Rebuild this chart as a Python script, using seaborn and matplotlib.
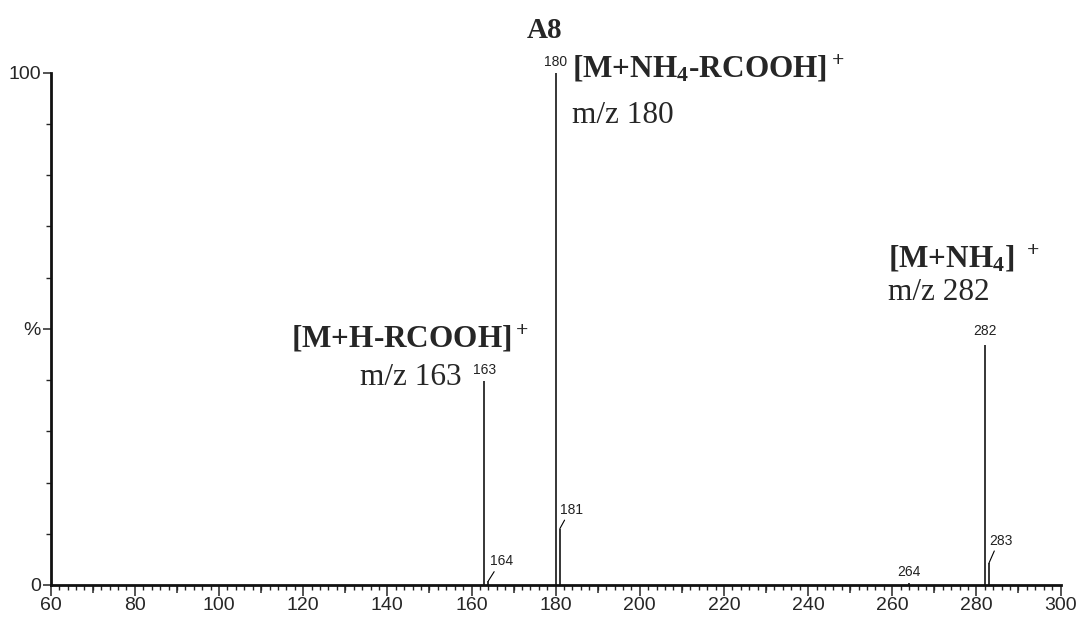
import matplotlib
matplotlib.use('Agg')
import matplotlib.pyplot as plt
from matplotlib.ticker import MultipleLocator, FixedLocator
import seaborn as sns

# peak list
mz = [163, 164, 180, 181, 264, 282, 283]
intensity = [39.8, 0.8, 100, 11.0, 0.4, 46.8, 4.3]
# label offsets (points); leader=True draws a small slanted line to the label
label_off = [(0, 3), (1, 9), (0, 3), (0, 8.5), (0, 3), (0, 5), (0, 11)]
leader = [False, True, False, True, False, False, True]

sns.set_theme(style='ticks')
plt.rcParams['font.family'] = ['Liberation Sans', 'DejaVu Sans']
plt.rcParams['mathtext.fontset'] = 'custom'
plt.rcParams['mathtext.rm'] = 'Liberation Serif:bold'
plt.rcParams['mathtext.it'] = 'Liberation Serif:bold'
plt.rcParams['mathtext.bf'] = 'Liberation Serif:bold'

fig = plt.figure(figsize=(10.8, 6.22), dpi=100)
ax = fig.add_axes([0.047, 0.0595, 0.935, 0.8235])

ax.vlines(mz, 0, intensity, color='black', lw=1.1)

for m, h, off, ld in zip(mz, intensity, label_off, leader):
    if ld:
        ax.annotate(str(m), xy=(m, h), xytext=off, textcoords='offset points',
                    ha='left', va='bottom', fontsize=10, color='#222222',
                    arrowprops=dict(arrowstyle='-', lw=0.8, color='black',
                                    shrinkA=0, shrinkB=0, relpos=(0.3, 0.05)))
    else:
        ax.annotate(str(m), xy=(m, h), xytext=off, textcoords='offset points',
                    ha='center', va='bottom', fontsize=10, color='#222222')

ax.set_xlim(60, 300)
ax.set_ylim(0, 100)
sns.despine(ax=ax)
for s in ['left', 'bottom']:
    ax.spines[s].set_linewidth(2.0)
    ax.spines[s].set_color('#111111')

ax.xaxis.set_major_locator(MultipleLocator(20))
ax.xaxis.set_minor_locator(MultipleLocator(2))
ax.tick_params(axis='x', which='major', length=8, width=1.1, labelsize=14, pad=1)
ax.tick_params(axis='x', which='minor', length=3.5, width=1.0)

ax.set_yticks([0, 50, 100])
ax.set_yticklabels(['0', '%', '100'])
ax.yaxis.set_minor_locator(FixedLocator([10, 20, 30, 40, 60, 70, 80, 90]))
ax.tick_params(axis='y', which='major', length=6, width=1.1, labelsize=14, pad=1)
ax.tick_params(axis='y', which='minor', length=3.5, width=1.0)

# medium ticks at the odd tens
sec = ax.secondary_xaxis('bottom')
sec.set_xticks([70, 90, 110, 130, 150, 170, 190, 210, 230, 250, 270, 290])
sec.tick_params(length=6, width=1.1, labelbottom=False)
sec.spines['bottom'].set_visible(False)

serif = 'Liberation Serif'
fs = 22.5
ax.text(184.0, 99.0, r'[M+NH$_4$-RCOOH]$^+$', family=serif, weight='bold',
        fontsize=fs, ha='left', va='baseline', clip_on=False)
ax.text(184.0, 90.2, 'm/z 180', family=serif, fontsize=fs, ha='left', va='baseline')
ax.text(117.0, 46.3, r'[M+H-RCOOH]$^+$', family=serif, weight='bold',
        fontsize=fs, ha='left', va='baseline')
ax.text(133.5, 39.0, 'm/z 163', family=serif, fontsize=fs, ha='left', va='baseline')
ax.text(259.0, 61.9, r'[M+NH$_4$] $^+$', family=serif, weight='bold',
        fontsize=fs, ha='left', va='baseline')
ax.text(258.9, 55.6, 'm/z 282', family=serif, fontsize=fs, ha='left', va='baseline')

fig.text(545 / 1080, 1 - 31 / 622, 'A8', family=serif, weight='bold',
         fontsize=21, ha='center', va='center')

fig.savefig('out.png', dpi=100)
